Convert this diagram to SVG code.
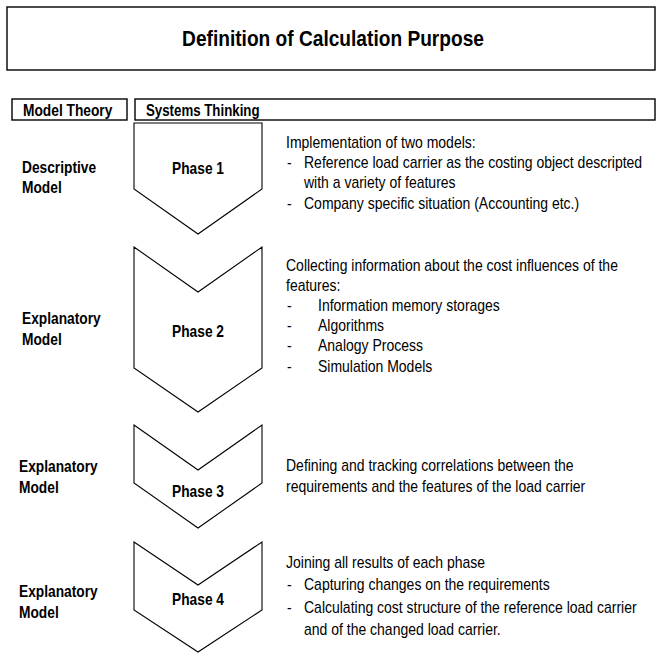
<svg xmlns="http://www.w3.org/2000/svg" width="661" height="655" viewBox="0 0 661 655">
<style>
.box{fill:#fff;stroke:#000;stroke-width:1.4}
.ph{fill:#fff;stroke:#000;stroke-width:1.1}
.t{font-family:"Liberation Sans",Arial,sans-serif;fill:#000}
.title{font-size:22px;font-weight:bold}
.lab{font-size:16px;font-weight:bold}
.body{font-size:16px}
.m{text-anchor:middle}
</style>
<rect width="661" height="655" fill="#fff"/>
<g id="title">
<rect class="box" x="7" y="7" width="648" height="63"/>
<text class="t title m" transform="translate(333,46) scale(0.87,1)">Definition of Calculation Purpose</text>
</g>
<g id="model-theory">
<rect class="box" x="12" y="99" width="115" height="21"/>
<text class="t lab" transform="translate(23,115.5) scale(0.86,1)">Model Theory</text>
</g>
<g id="systems-thinking">
<rect class="box" x="135" y="99" width="520" height="21"/>
<text class="t lab" transform="translate(146,115.5) scale(0.83,1)">Systems Thinking</text>
</g>
<g id="row1-label" class="t lab">
<text transform="translate(22,173) scale(0.86,1)">Descriptive</text>
<text transform="translate(22,193) scale(0.86,1)">Model</text>
</g>
<g id="row2-label" class="t lab">
<text transform="translate(22,324) scale(0.86,1)">Explanatory</text>
<text transform="translate(22,345) scale(0.86,1)">Model</text>
</g>
<g id="row3-label" class="t lab">
<text transform="translate(19,472) scale(0.86,1)">Explanatory</text>
<text transform="translate(19,493) scale(0.86,1)">Model</text>
</g>
<g id="row4-label" class="t lab">
<text transform="translate(19,597) scale(0.86,1)">Explanatory</text>
<text transform="translate(19,618) scale(0.86,1)">Model</text>
</g>
<g id="phase1">
<polygon class="ph" points="134,123 262,123 262,189 198,234 134,189"/>
<text class="t lab m" transform="translate(198,174) scale(0.86,1)">Phase 1</text>
</g>
<g id="phase2">
<polygon class="ph" points="134,247 198,292 262,247 262,368 198,412 134,368"/>
<text class="t lab m" transform="translate(198,337) scale(0.86,1)">Phase 2</text>
</g>
<g id="phase3">
<polygon class="ph" points="134,425 198,470 262,425 262,483 198,528 134,483"/>
<text class="t lab m" transform="translate(198,497) scale(0.86,1)">Phase 3</text>
</g>
<g id="phase4">
<polygon class="ph" points="134,542 198,585 262,542 262,610 198,652 134,610"/>
<text class="t lab m" transform="translate(198,605) scale(0.86,1)">Phase 4</text>
</g>
<g id="desc1" class="t body">
<text transform="translate(286,148) scale(0.875,1)">Implementation of two models:</text>
<text transform="translate(287,168) scale(0.875,1)">-</text><text transform="translate(304,168) scale(0.875,1)">Reference load carrier as the costing object descripted</text>
<text transform="translate(304,188) scale(0.875,1)">with a variety of features</text>
<text transform="translate(287,209) scale(0.875,1)">-</text><text transform="translate(304,209) scale(0.875,1)">Company specific situation (Accounting etc.)</text>
</g>
<g id="desc2" class="t body">
<text transform="translate(286,271) scale(0.875,1)">Collecting information about the cost influences of the</text>
<text transform="translate(286,291) scale(0.875,1)">features:</text>
<text transform="translate(287,311) scale(0.875,1)">-</text><text transform="translate(318,311) scale(0.875,1)">Information memory storages</text>
<text transform="translate(287,331) scale(0.875,1)">-</text><text transform="translate(318,331) scale(0.875,1)">Algorithms</text>
<text transform="translate(287,351) scale(0.875,1)">-</text><text transform="translate(318,351) scale(0.875,1)">Analogy Process</text>
<text transform="translate(287,372) scale(0.875,1)">-</text><text transform="translate(318,372) scale(0.875,1)">Simulation Models</text>
</g>
<g id="desc3" class="t body">
<text transform="translate(286,471) scale(0.875,1)">Defining and tracking correlations between the</text>
<text transform="translate(286,492) scale(0.875,1)">requirements and the features of the load carrier</text>
</g>
<g id="desc4" class="t body">
<text transform="translate(286,568) scale(0.875,1)">Joining all results of each phase</text>
<text transform="translate(287,590) scale(0.875,1)">-</text><text transform="translate(304,590) scale(0.875,1)">Capturing changes on the requirements</text>
<text transform="translate(287,613) scale(0.875,1)">-</text><text transform="translate(304,613) scale(0.875,1)">Calculating cost structure of the reference load carrier</text>
<text transform="translate(304,635) scale(0.875,1)">and of the changed load carrier.</text>
</g>
<g id="connectors"></g>
</svg>
